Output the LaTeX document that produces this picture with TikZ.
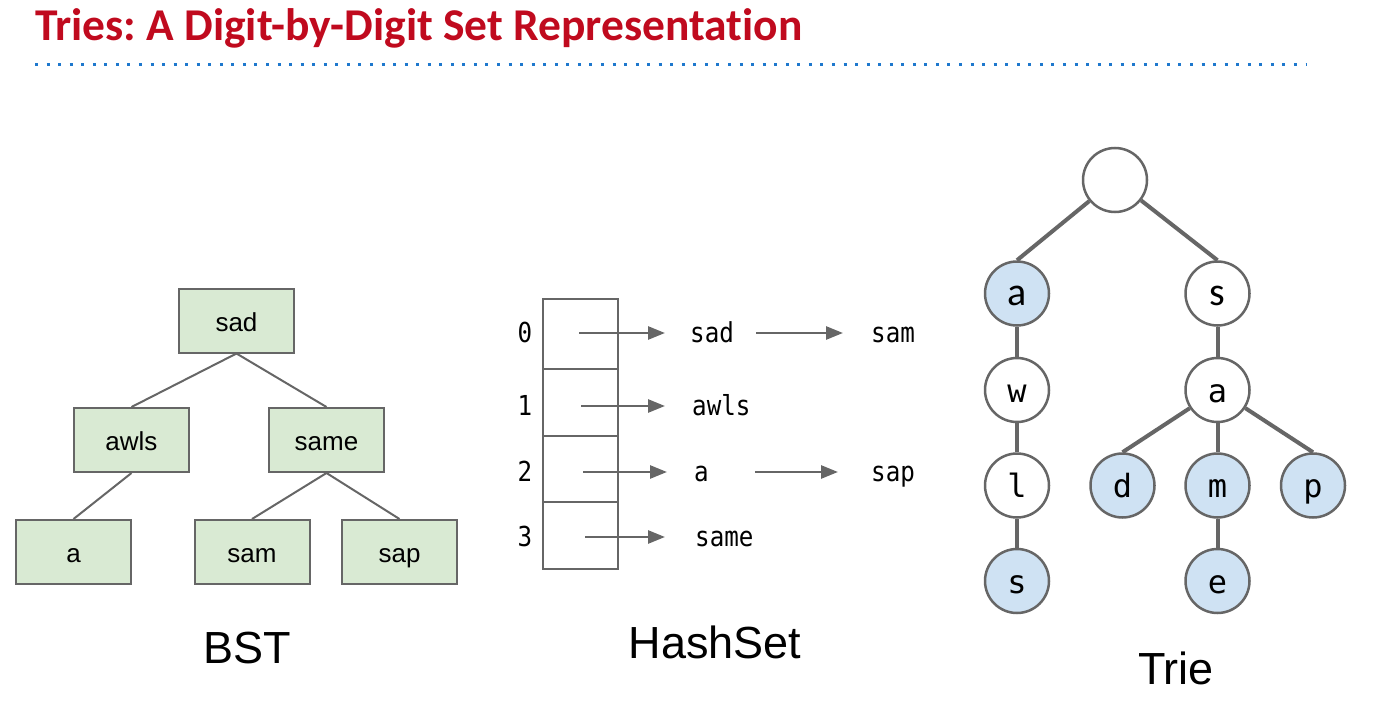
\documentclass[tikz,border=0pt]{standalone}
\usepackage{fontspec}
\setmainfont{Liberation Sans}
\newfontfamily\titlefont[Ligatures=NoCommon]{Carlito}
\newfontfamily\monofont[FakeStretch=0.88]{DejaVu Sans Mono}
\newfontfamily\triefont{DejaVu Sans Mono}
\usetikzlibrary{arrows.meta}
\definecolor{titlered}{RGB}{192,10,30}
\definecolor{dotblue}{RGB}{30,120,205}
\definecolor{edgegray}{RGB}{102,102,102}
\definecolor{bstgreen}{RGB}{217,234,211}
\definecolor{trieblue}{RGB}{207,226,243}
\tikzset{
  bstbox/.style={draw=edgegray, line width=2pt, fill=bstgreen, minimum width=115pt, minimum height=64pt, inner sep=0pt, text height=22pt, text depth=1pt, font=\fontsize{26}{30}\selectfont},
  bstedge/.style={draw=edgegray, line width=2pt},
  hashtxt/.style={inner sep=0pt, anchor=base west, font=\monofont\fontsize{27.5}{30}\selectfont},
  hashidx/.style={inner sep=0pt, anchor=base, font=\monofont\fontsize{27.5}{30}\selectfont},
  harrow/.style={draw=edgegray, line width=2.7pt, -{Triangle[length=17pt,width=13pt]}},
  tnode/.style={circle, draw=edgegray, line width=2.5pt, fill=white, minimum size=64pt, inner sep=0pt, text height=25.5pt, text depth=1pt, font=\triefont\fontsize{32}{34}\selectfont},
  tmark/.style={tnode, fill=trieblue},
  tcal/.style={font=\titlefont\fontsize{40}{42}\selectfont},
  tedge/.style={draw=edgegray, line width=4pt},
  caption/.style={inner sep=0pt, anchor=base, font=\fontsize{45}{50}\selectfont}
}
\begin{document}
\begin{tikzpicture}[x=1pt,y=-1pt]
\useasboundingbox (0,0) rectangle (1374,717);
% title
\node[inner sep=0pt, anchor=base west, text=titlered, font=\titlefont\bfseries\fontsize{45.5}{50}\selectfont\frenchspacing] (title) at (35,40.5) {Tries: A Digit-by-Digit Set Representation};
\coordinate (dotL) at (35,65);
\coordinate (dotR) at (1306,65);
\draw[dotblue, line width=3pt, dash pattern=on 3pt off 8.55pt] (dotL) -- (dotR);

% BST
\node[bstbox] (sad) at (236.5,320.5) {sad};
\node[bstbox] (awls) at (131.5,440) {awls};
\node[bstbox] (same) at (326.5,440) {same};
\node[bstbox] (ba) at (73.5,552) {a};
\node[bstbox] (sam) at (252,552) {sam};
\node[bstbox] (sap) at (399.5,552) {sap};
\draw[bstedge] (sad.south) -- (awls.north);
\draw[bstedge] (sad.south) -- (same.north);
\draw[bstedge] (awls.south) -- (ba.north);
\draw[bstedge] (same.south) -- (sam.north);
\draw[bstedge] (same.south) -- (sap.north);
\node[caption] (bstlab) at (247,663) {BST};

% HashSet
\node[draw=edgegray, line width=2.5pt, minimum width=75pt, minimum height=270pt, inner sep=0pt] (table) at (580.5,434) {};
\coordinate (d1L) at (543,369); \coordinate (d1R) at (618,369);
\coordinate (d2L) at (543,436); \coordinate (d2R) at (618,436);
\coordinate (d3L) at (543,502); \coordinate (d3R) at (618,502);
\draw[edgegray, line width=2.5pt] (d1L) -- (d1R) (d2L) -- (d2R) (d3L) -- (d3R);
\node[hashidx] (i0) at (525,342) {0};
\node[hashidx] (i1) at (525,415) {1};
\node[hashidx] (i2) at (525,481) {2};
\node[hashidx] (i3) at (525,546) {3};
\coordinate (c0) at (579,333);
\coordinate (c1) at (581,406);
\coordinate (c2) at (583,472);
\coordinate (c3) at (585,537);
\node[hashtxt] (hsad) at (690,342) {sad};
\node[hashtxt] (hsam) at (871,342) {sam};
\node[hashtxt] (hawls) at (692,415) {awls};
\node[hashtxt] (ha) at (694,481) {a};
\node[hashtxt] (hsap) at (871,481) {sap};
\node[hashtxt] (hsame) at (695,546) {same};
\draw[harrow, shorten >=25pt] (c0) -- (c0 -| hsad.west);
\draw[harrow, shorten <=22pt, shorten >=28pt] (c0 -| hsad.east) -- (c0 -| hsam.west);
\draw[harrow, shorten >=27pt] (c1) -- (c1 -| hawls.west);
\draw[harrow, shorten >=27pt] (c2) -- (c2 -| ha.west);
\draw[harrow, shorten <=46pt, shorten >=33pt] (c2 -| ha.east) -- (c2 -| hsap.west);
\draw[harrow, shorten >=30pt] (c3) -- (c3 -| hsame.west);
\node[caption] (hashlab) at (715,658) {HashSet};

% Trie
\node[tnode] (root) at (1115,180) {};
\node[tmark, tcal] (ta) at (1017,293.5) {a};
\node[tnode, tcal] (ts) at (1217.5,293.5) {s};
\node[tnode] (tw) at (1017,390) {w};
\node[tnode] (tl) at (1017,485.5) {l};
\node[tmark] (tls) at (1017,581) {s};
\node[tnode] (tsa) at (1217.5,390) {a};
\node[tmark] (td) at (1122.5,485.5) {d};
\node[tmark] (tm) at (1217.5,485.5) {m};
\node[tmark] (tp) at (1313,485.5) {p};
\node[tmark] (te) at (1217.5,581) {e};
\draw[tedge] (root) -- (ta.north);
\draw[tedge] (root) -- (ts.north);
\draw[tedge] (ta) -- (tw);
\draw[tedge] (tw) -- (tl);
\draw[tedge] (tl) -- (tls);
\draw[tedge] (ts) -- (tsa);
\draw[tedge] (tsa) -- (td.north);
\draw[tedge] (tsa) -- (tm);
\draw[tedge] (tsa) -- (tp.north);
\draw[tedge] (tm) -- (te);
\node[caption] (trielab) at (1176,684) {Trie};
\end{tikzpicture}
\end{document}
